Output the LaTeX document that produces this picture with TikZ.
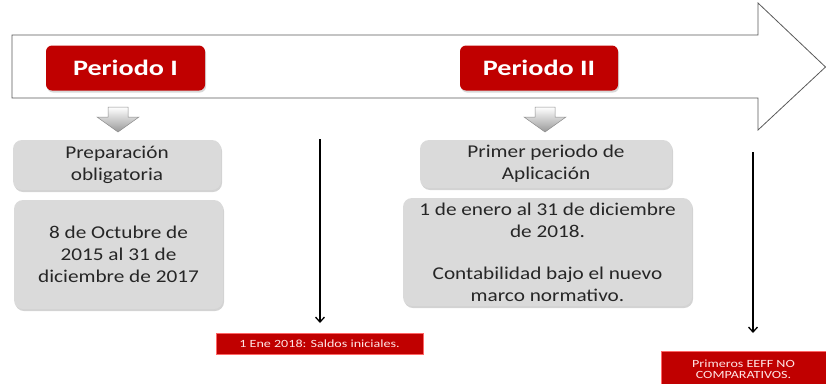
\documentclass[tikz,border=0pt]{standalone}
\usepackage{fontspec}
\setmainfont{Carlito}[FakeStretch=1.18]
\newfontfamily\widefont{Carlito}[FakeStretch=1.28]
\usetikzlibrary{shadows,arrows.meta}
\definecolor{myred}{HTML}{C00000}
\definecolor{boxgray}{HTML}{DADADA}
\definecolor{txtgray}{HTML}{262626}
\begin{document}
\begin{tikzpicture}[x=1pt,y=-1pt,
  bigarrow/.style={draw=black!65, fill=white, line width=0.8pt},
  redbox/.style={fill=myred, rounded corners=6pt, text=white, inner sep=0pt,
    font=\widefont\fontsize{22}{26}\selectfont\bfseries,
    drop shadow={opacity=0.3, shadow xshift=1pt, shadow yshift=-2pt}},
  graybox/.style={fill=boxgray, rounded corners=9pt, text=txtgray, inner sep=0pt,
    align=center, font=\fontsize{18}{22}\selectfont,
    drop shadow={opacity=0.35, shadow xshift=1pt, shadow yshift=-2pt}},
  redlabel/.style={fill=myred, draw=red!60, line width=0.4pt, text=white!90!red, inner sep=0pt,
    align=center, font=\widefont\fontsize{11}{11.5}\selectfont},
  timeline/.style={line width=1.3pt, -{Straight Barb[length=5pt,width=9pt]}},
  downicon/.pic={
    \draw[draw=black!45, top color=white, bottom color=black!40, line width=0.5pt]
      (-10,0) -- (10,0) -- (10,10) -- (21,10) -- (0,25) -- (-21,10) -- (-10,10) -- cycle;
  }
]
\useasboundingbox (0,0) rectangle (826,383);

% big timeline arrow
\draw[bigarrow] (12,35) -- (758,35) -- (758,3) -- (825.5,67) -- (758,130) -- (758,98) -- (12,98) -- cycle;

% period labels
\node[redbox, minimum width=159pt, minimum height=45pt] (p1) at (125.5,68) {Periodo I};
\node[redbox, minimum width=158pt, minimum height=45pt] (p2) at (539,68) {Periodo II};

% gray down icons
\pic at (118,107) {downicon};
\pic at (545,107) {downicon};

% gray boxes
\node[graybox, minimum width=208pt, minimum height=50pt] (prep) at (117,165) {Preparación\\obligatoria};
\node[graybox, minimum width=209pt, minimum height=109pt] (oct) at (118.5,254.5) {8 de Octubre de\\2015 al 31 de\\diciembre de 2017};
\node[graybox, minimum width=252pt, minimum height=48pt] (prim) at (546,164) {Primer periodo de\\Aplicación};
\node[graybox, minimum width=289pt, minimum height=108pt] (ene) at (547.5,252)
  {1 de enero al 31 de diciembre\\de 2018.\\[20pt]Contabilidad bajo el nuevo\\marco normativo.};

% red bottom labels
\node[redlabel, minimum width=207pt, minimum height=21pt] (lab1) at (319.5,343.5) {1 Ene 2018: Saldos iniciales.};
\node[redlabel, minimum width=165pt, minimum height=36pt, anchor=north] (lab2) at (743.5,351)
  {Primeros EEFF NO\\COMPARATIVOS.};

% vertical arrows
\coordinate (v1s) at (320,139);
\coordinate (v1e) at (320,323);
\coordinate (v2s) at (753,152);
\coordinate (v2e) at (753,333);
\draw[timeline] (v1s) -- (v1e);
\draw[timeline] (v2s) -- (v2e);
\end{tikzpicture}
\end{document}
